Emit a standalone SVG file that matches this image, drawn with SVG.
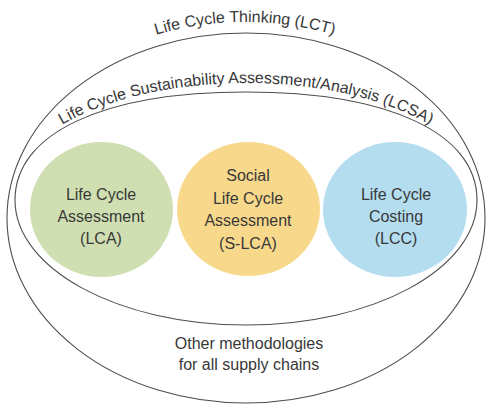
<svg xmlns="http://www.w3.org/2000/svg" width="493" height="406" viewBox="0 0 493 406">
<style>
.ln{fill:none;stroke:#4d4d4d;stroke-width:1.1}
.t{font-family:"Liberation Sans",Arial,sans-serif;font-size:16px;fill:#383838;text-anchor:middle}
</style>
<defs>
<path id="lctArc" d="M -5 218 A 250 196 0 0 1 495 218"/>
<path id="lcsaArc" d="M 6 200 A 240 117 0 0 1 486 200"/>
</defs>
<rect width="493" height="406" fill="#ffffff"/>
<g id="lct">
<ellipse class="ln" cx="246" cy="218" rx="239" ry="185"/>
<text class="t" font-size="15"><textPath href="#lctArc" startOffset="50%">Life Cycle Thinking (LCT)</textPath></text>
<text class="t" x="249" y="349">Other methodologies</text>
<text class="t" x="249" y="370">for all supply chains</text>
</g>
<g id="lcsa">
<path class="ln" d="M 15 200 C 15 133 103.8 92 246 92 C 388.2 92 477 133 477 200 C 477 269 373.5 325 246 325 C 118.5 325 15 269 15 200 Z"/>
<text class="t"><textPath href="#lcsaArc" startOffset="50%">Life Cycle Sustainability Assessment/Analysis (LCSA)</textPath></text>
</g>
<g id="lca">
<ellipse cx="101.5" cy="209.5" rx="71.5" ry="67.5" fill="#cfdfb2"/>
<text class="t" x="101" y="200">Life Cycle</text>
<text class="t" x="101" y="222">Assessment</text>
<text class="t" x="101" y="244">(LCA)</text>
</g>
<g id="slca">
<ellipse cx="248.5" cy="209" rx="71.5" ry="67" fill="#f8d98c"/>
<text class="t" x="248" y="181">Social</text>
<text class="t" x="248" y="203.5">Life Cycle</text>
<text class="t" x="248" y="226">Assessment</text>
<text class="t" x="248" y="248.5">(S-LCA)</text>
</g>
<g id="lcc">
<ellipse cx="395" cy="209.5" rx="72" ry="67.5" fill="#b4ddf0"/>
<text class="t" x="396" y="200">Life Cycle</text>
<text class="t" x="396" y="222">Costing</text>
<text class="t" x="396" y="244">(LCC)</text>
</g>
<g id="connectors"/>
</svg>
